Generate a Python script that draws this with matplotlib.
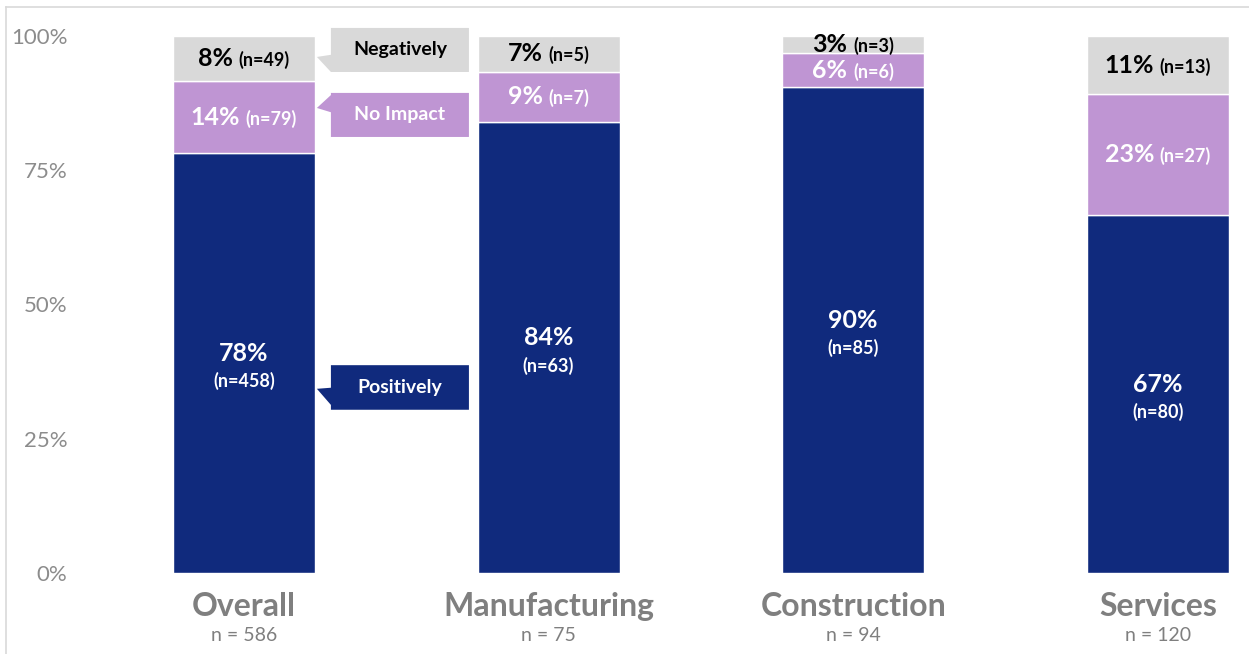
import numpy as np
import matplotlib.pyplot as plt
from matplotlib.patches import Polygon
from matplotlib.lines import Line2D
from matplotlib.offsetbox import TextArea, HPacker, AnnotationBbox

plt.rcParams['font.family'] = ['Lato', 'DejaVu Sans']

categories = ['Overall', 'Manufacturing', 'Construction', 'Services']
totals = [586, 75, 94, 120]
n_positive = [458, 63, 85, 80]
n_noimpact = [79, 7, 6, 27]
n_negative = [49, 5, 3, 13]
pct_positive = ['78%', '84%', '90%', '67%']
pct_noimpact = ['14%', '9%', '6%', '23%']
pct_negative = ['8%', '7%', '3%', '11%']

navy = '#102a7d'
pink = '#bf95d3'
grey = '#d9d9d9'
txt_grey = '#7f7f7f'

tot = np.array(totals, float)
pos = np.array(n_positive) / tot * 100
noi = np.array(n_noimpact) / tot * 100
neg = np.array(n_negative) / tot * 100

fig = plt.figure(figsize=(12.49, 6.54), dpi=100)
ax = fig.add_axes([80 / 1249, 81 / 654, 1165 / 1249, 537 / 654])

x = np.arange(len(categories))
w = 0.466
ax.bar(x, pos, w, color=navy, edgecolor='white', linewidth=1)
ax.bar(x, noi, w, bottom=pos, color=pink, edgecolor='white', linewidth=1)
ax.bar(x, neg, w, bottom=pos + noi, color=grey, edgecolor='white', linewidth=1)

ax.set_xlim(-0.538, 3.286)
ax.set_ylim(0, 100)
ax.set_yticks([0, 25, 50, 75, 100])
ax.set_yticklabels(['0%', '25%', '50%', '75%', '100%'])
ax.tick_params(axis='y', length=0, pad=9, labelsize=16, labelcolor='#8c8c8c')
ax.set_xticks([])
for s in ax.spines.values():
    s.set_visible(False)


def inline_label(xc, yc, pct, n, color):
    a = TextArea(pct, textprops=dict(fontsize=18, fontweight='bold', color=color))
    b = TextArea(n, textprops=dict(fontsize=13, fontweight='bold', color=color))
    box = HPacker(children=[a, b], align='baseline', pad=0, sep=4)
    ab = AnnotationBbox(box, (xc, yc), frameon=False, box_alignment=(0.5, 0.5))
    ax.add_artist(ab)


for i in x:
    # positive segment: two lines
    ax.annotate(pct_positive[i], (i, pos[i] / 2), xytext=(0, 7), textcoords='offset points',
                ha='center', va='center', fontsize=18, fontweight='bold', color='white')
    ax.annotate('(n=%d)' % n_positive[i], (i, pos[i] / 2), xytext=(0, -13),
                textcoords='offset points', ha='center', va='center',
                fontsize=13, fontweight='bold', color='white')
    inline_label(i, pos[i] + noi[i] / 2, pct_noimpact[i], '(n=%d)' % n_noimpact[i], 'white')
    inline_label(i, pos[i] + noi[i] + neg[i] / 2, pct_negative[i],
                 '(n=%d)' % n_negative[i], 'black')

    # category name and sample size under each bar
    ax.annotate(categories[i], (i, 0), xycoords=('data', 'axes fraction'),
                xytext=(0, -24), textcoords='offset points', ha='center', va='center',
                fontsize=23, fontweight='bold', color=txt_grey)
    ax.annotate('n = %d' % totals[i], (i, 0), xycoords=('data', 'axes fraction'),
                xytext=(0, -45), textcoords='offset points', ha='center', va='center',
                fontsize=14, color=txt_grey)


# legend callouts beside the first bar
def callout(label, y_top, y_bot, tip_y, base_top, fc, tc):
    x0, x1, tip_x = 0.2856, 0.7386, 0.2396
    pts = [(x0, y_top), (x1, y_top), (x1, y_bot), (x0, y_bot),
           (x0, base_top - 3.2 if base_top - 3.2 > y_bot else y_bot),
           (tip_x, tip_y), (x0, base_top)]
    ax.add_patch(Polygon(pts, closed=True, facecolor=fc, edgecolor='none', clip_on=False))
    ax.text((x0 + x1) / 2, (y_top + y_bot) / 2, label, ha='center', va='center',
            fontsize=14, fontweight='bold', color=tc, clip_on=False)


callout('Negatively', 101.5, 93.3, 96.1, 96.5, grey, 'black')
callout('No Impact', 89.4, 81.2, 86.6, 89.0, pink, 'white')
callout('Positively', 38.7, 30.4, 34.3, 34.5, navy, 'white')

# thin frame along the top and left
fig.add_artist(Line2D([6 / 1249, 1], [1 - 7 / 654, 1 - 7 / 654], color='#d9d9d9', lw=1.2))
fig.add_artist(Line2D([6 / 1249, 6 / 1249], [0, 1 - 7 / 654], color='#d9d9d9', lw=1.2))

fig.savefig('out.png', dpi=100)
